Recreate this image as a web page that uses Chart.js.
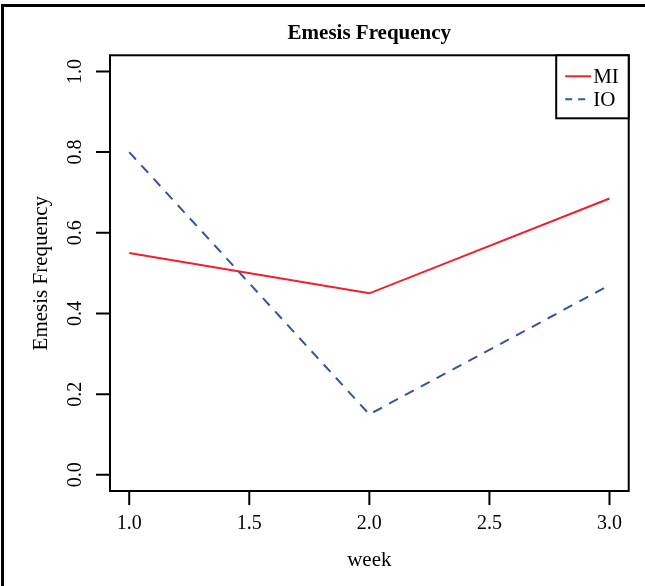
<!DOCTYPE html>
<html>
<head>
<meta charset="utf-8">
<script src="https://cdn.jsdelivr.net/npm/chart.js@4"></script>
<style>
  html, body { margin: 0; padding: 0; background: #fff; }
  #wrap { position: relative; width: 645px; height: 586px; overflow: hidden; }
  #frame { position: absolute; left: 1px; top: 4px; right: -10px; bottom: -10px; border-top: 3px solid #000; border-left: 3px solid #000; pointer-events: none; }
</style>
</head>
<body>
<div id="wrap">
  <canvas id="grafico" width="645" height="586"></canvas>
  <div id="frame"></div>
</div>
<script>
const semanas = [1, 2, 3];
const valoresMI = [0.55, 0.45, 0.685];
const valoresIO = [0.80, 0.15, 0.47];
const ticksX = [1.0, 1.5, 2.0, 2.5, 3.0];
const ticksY = [0.0, 0.2, 0.4, 0.6, 0.8, 1.0];

const fuente = '"Liberation Serif", "Times New Roman", serif';
const colorMI = '#f0202a';
const colorIO = '#3553a6';

// dibuja caja, ejes, etiquetas y leyenda al estilo de R base
const estiloR = {
    id: 'estiloR',
    afterDraw(chart) {
        const ctx = chart.ctx;
        const area = chart.chartArea;
        const x = chart.scales.x, y = chart.scales.y;
        ctx.save();
        ctx.strokeStyle = '#000';
        ctx.fillStyle = '#000';
        ctx.lineWidth = 2;

        // caja del panel
        ctx.strokeRect(area.left, area.top, area.right - area.left, area.bottom - area.top);

        // eje x
        ctx.beginPath();
        ctx.moveTo(x.getPixelForValue(ticksX[0]), area.bottom);
        ctx.lineTo(x.getPixelForValue(ticksX[ticksX.length - 1]), area.bottom);
        ticksX.forEach(v => {
            const px = x.getPixelForValue(v);
            ctx.moveTo(px, area.bottom);
            ctx.lineTo(px, area.bottom + 14);
        });
        ctx.stroke();
        ctx.font = '20px ' + fuente;
        ctx.textAlign = 'center';
        ctx.textBaseline = 'middle';
        ticksX.forEach(v => ctx.fillText(v.toFixed(1), x.getPixelForValue(v), area.bottom + 33));

        // eje y
        ctx.beginPath();
        ctx.moveTo(area.left, y.getPixelForValue(ticksY[0]));
        ctx.lineTo(area.left, y.getPixelForValue(ticksY[ticksY.length - 1]));
        ticksY.forEach(v => {
            const py = y.getPixelForValue(v);
            ctx.moveTo(area.left, py);
            ctx.lineTo(area.left - 14, py);
        });
        ctx.stroke();
        ticksY.forEach(v => {
            ctx.save();
            ctx.translate(area.left - 34, y.getPixelForValue(v));
            ctx.rotate(-Math.PI / 2);
            ctx.fillText(v.toFixed(1), 0, 0);
            ctx.restore();
        });

        // titulos
        const centroX = (area.left + area.right) / 2;
        ctx.font = '21px ' + fuente;
        ctx.fillText('week', centroX, area.bottom + 69);
        ctx.save();
        ctx.translate(area.left - 69, (area.top + area.bottom) / 2);
        ctx.rotate(-Math.PI / 2);
        ctx.fillText('Emesis Frequency', 0, 0);
        ctx.restore();
        ctx.font = 'bold 21px ' + fuente;
        ctx.fillText('Emesis Frequency', centroX, 34);

        // leyenda
        const lx = area.right - 72.5, ly = area.top;
        ctx.lineWidth = 2;
        ctx.fillStyle = '#fff';
        ctx.fillRect(lx, ly, 72.5, 63);
        ctx.strokeRect(lx, ly, 72.5, 63);
        const series = [['MI', colorMI, []], ['IO', colorIO, [7, 6]]];
        series.forEach((s, i) => {
            const yy = ly + 21 + i * 23;
            ctx.strokeStyle = s[1];
            ctx.setLineDash(s[2]);
            ctx.beginPath();
            ctx.moveTo(lx + 9, yy);
            ctx.lineTo(lx + 35, yy);
            ctx.stroke();
            ctx.setLineDash([]);
            ctx.fillStyle = '#000';
            ctx.font = '21px ' + fuente;
            ctx.textAlign = 'left';
            ctx.fillText(s[0], lx + 37, yy + 1);
        });
        ctx.restore();
    }
};

const ctx = document.getElementById('grafico').getContext('2d');
new Chart(ctx, {
    type: 'line',
    data: {
        datasets: [
            {
                label: 'MI',
                data: semanas.map((s, i) => ({ x: s, y: valoresMI[i] })),
                borderColor: colorMI,
                borderWidth: 2,
                pointRadius: 0,
                tension: 0
            },
            {
                label: 'IO',
                data: semanas.map((s, i) => ({ x: s, y: valoresIO[i] })),
                borderColor: colorIO,
                borderWidth: 2,
                borderDash: [10, 8],
                pointRadius: 0,
                tension: 0
            }
        ]
    },
    options: {
        responsive: false,
        animation: false,
        layout: { padding: { left: 110, right: 16.3, top: 55.3, bottom: 95 } },
        plugins: {
            legend: { display: false },
            title: { display: false },
            tooltip: { enabled: false }
        },
        scales: {
            x: { type: 'linear', min: 0.92, max: 3.08, display: false },
            y: { type: 'linear', min: -0.04, max: 1.04, display: false }
        }
    },
    plugins: [estiloR]
});
</script>
</body>
</html>
